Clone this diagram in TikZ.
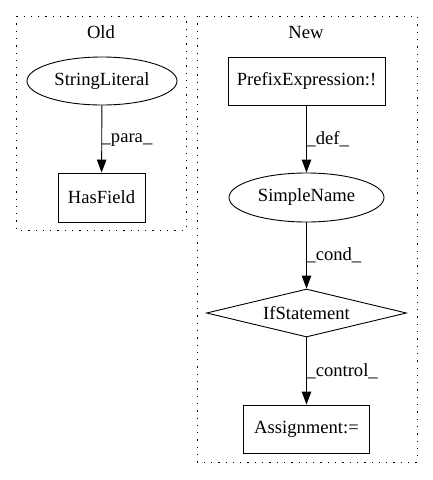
\documentclass[tikz,border=0pt]{standalone}
\usepackage{fontspec}
\setmainfont{Liberation Serif}
\usetikzlibrary{shapes.geometric,arrows.meta}
\begin{document}
\begin{tikzpicture}[x=1pt,y=-1pt,
  every node/.style={font=\fontsize{18.6}{21}\selectfont, inner sep=0pt},
  cluster/.style={draw, line width=1pt, dash pattern=on 1.3pt off 6pt},
  boxnode/.style={draw, rectangle, line width=0.9pt},
  ellnode/.style={draw, ellipse, line width=0.9pt},
  dianode/.style={draw, diamond, aspect=4.1, line width=0.9pt},
  edge/.style={line width=0.9pt, -{Triangle[length=13pt,width=9.5pt]}},
  elabel/.style={anchor=west}]
\useasboundingbox (0,0) rectangle (432,480);
\draw[cluster] (16,16) rectangle (186,230);
\node (oldlbl) at (101,32) {Old};
\draw[cluster] (197,16) rectangle (417,462);
\node (newlbl) at (306,32) {New};

\node[ellnode, minimum width=150pt, minimum height=48pt] (sl) at (102,81) {StringLiteral};
\node[boxnode, minimum width=87pt, minimum height=49pt] (hf) at (101.5,197.5) {HasField};
\draw[edge] (sl) -- (hf) node[elabel, pos=0.52, xshift=-0.5pt] {\_para\_};

\node[boxnode, minimum width=157pt, minimum height=48pt] (pe) at (306.5,81) {PrefixExpression:!};
\node[ellnode, minimum width=155pt, minimum height=49pt] (sn) at (306.5,197.5) {SimpleName};
\node[dianode, minimum width=200pt, minimum height=48pt] (ifs) at (306.5,313) {IfStatement};
\node[boxnode, minimum width=126pt, minimum height=48pt] (as) at (306.5,429) {Assignment:=};

\draw[edge] (pe) -- (sn) node[elabel, pos=0.5, xshift=-0.5pt] {\_def\_};
\draw[edge] (sn) -- (ifs) node[elabel, pos=0.5, xshift=-0.5pt] {\_cond\_};
\draw[edge] (ifs) -- (as) node[elabel, pos=0.5, xshift=-0.5pt] {\_control\_};
\end{tikzpicture}
\end{document}
